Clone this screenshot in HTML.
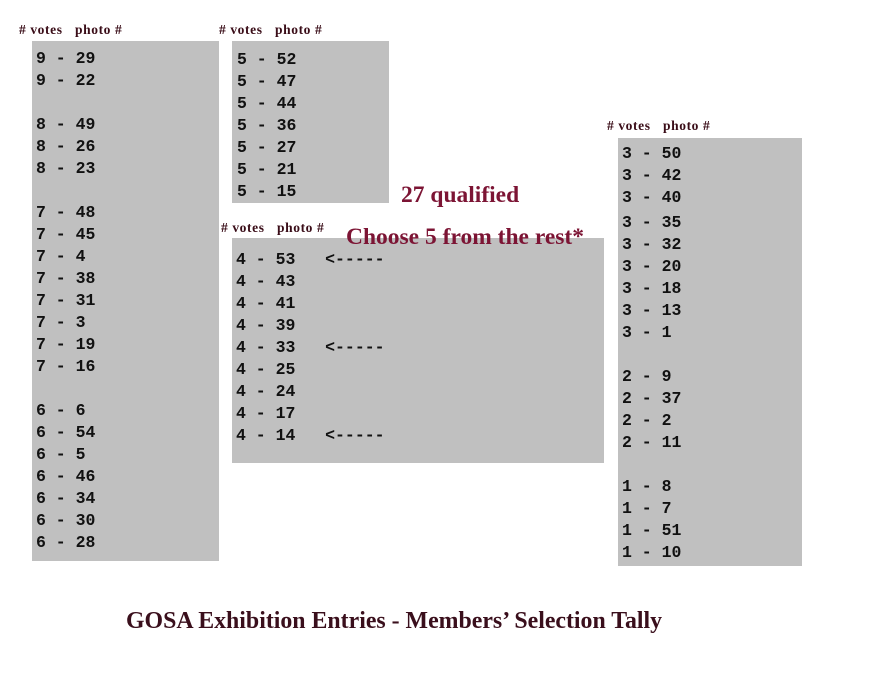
<!DOCTYPE html>
<html>
<head>
<meta charset="utf-8">
<style>
  html, body { margin:0; padding:0; background:#fff; }
  body { width:875px; height:679px; position:relative; overflow:hidden; }
  .box { position:absolute; background:#c0c0c0; }
  .mono { position:absolute; font-family:"Liberation Mono", monospace; font-weight:bold; font-size:16.5px; line-height:22px; color:#111; white-space:pre; margin:0; }
  .hdr { position:absolute; font-family:"Liberation Serif", serif; font-weight:bold; font-size:13.5px; letter-spacing:0.6px; color:#3a0d18; white-space:pre; line-height:14px; }
  .red { position:absolute; font-family:"Liberation Serif", serif; font-weight:bold; font-size:23.5px; color:#7c1434; white-space:pre; line-height:28px; }
  .title { position:absolute; font-family:"Liberation Serif", serif; font-weight:bold; font-size:23.85px; color:#3a0f1c; white-space:pre; line-height:28px; }
</style>
</head>
<body>
  <!-- boxes -->
  <div class="box" style="left:32px;top:41px;width:187px;height:520px;"></div>
  <div class="box" style="left:232px;top:41px;width:157px;height:162px;"></div>
  <div class="box" style="left:232px;top:238px;width:372px;height:225px;"></div>
  <div class="box" style="left:618px;top:138px;width:184px;height:428px;"></div>

  <!-- headers -->
  <div class="hdr" style="left:19px;top:23px;"># votes</div>
  <div class="hdr" style="left:75px;top:23px;">photo #</div>
  <div class="hdr" style="left:219px;top:23px;"># votes</div>
  <div class="hdr" style="left:275px;top:23px;">photo #</div>
  <div class="hdr" style="left:221px;top:221px;"># votes</div>
  <div class="hdr" style="left:277px;top:221px;">photo #</div>
  <div class="hdr" style="left:607px;top:119px;"># votes</div>
  <div class="hdr" style="left:663px;top:119px;">photo #</div>

  <!-- box 1 -->
  <pre class="mono" style="left:36px;top:48px;">9 - 29
9 - 22

8 - 49
8 - 26
8 - 23

7 - 48
7 - 45
7 - 4
7 - 38
7 - 31
7 - 3
7 - 19
7 - 16

6 - 6
6 - 54
6 - 5
6 - 46
6 - 34
6 - 30
6 - 28</pre>

  <!-- box 2 -->
  <pre class="mono" style="left:237px;top:49px;">5 - 52
5 - 47
5 - 44
5 - 36
5 - 27
5 - 21
5 - 15</pre>

  <!-- box 3 -->
  <pre class="mono" style="left:236px;top:249px;">4 - 53   &lt;-----
4 - 43
4 - 41
4 - 39
4 - 33   &lt;-----
4 - 25
4 - 24
4 - 17
4 - 14   &lt;-----</pre>

  <!-- box 4 -->
  <pre class="mono" style="left:622px;top:143px;">3 - 50
3 - 42
3 - 40</pre>
  <pre class="mono" style="left:622px;top:212px;">3 - 35
3 - 32
3 - 20
3 - 18
3 - 13
3 - 1

2 - 9
2 - 37
2 - 2
2 - 11

1 - 8
1 - 7
1 - 51
1 - 10</pre>

  <!-- red labels -->
  <div class="red" style="left:401px;top:181px;">27 qualified</div>
  <div class="red" style="left:346px;top:223px;">Choose 5 from the rest*</div>

  <!-- title -->
  <div class="title" style="left:126px;top:607px;">GOSA Exhibition Entries - Members’ Selection Tally</div>
</body>
</html>
